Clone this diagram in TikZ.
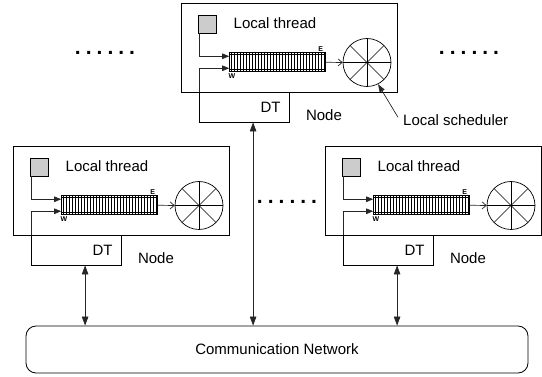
\documentclass[tikz,border=0pt]{standalone}
\usepackage{fontspec}
\setmainfont{Liberation Sans}
\usetikzlibrary{arrows.meta,calc}
\tikzset{
  nodebox/.style={draw, line width=0.8pt, minimum width=216pt, minimum height=89pt, inner sep=0pt},
  thr/.style={draw, fill=gray!40, line width=0.6pt, minimum size=17.5pt, inner sep=0pt},
  lbl/.style={font=\fontsize{15}{18}\selectfont, inner sep=0pt},
  tinylbl/.style={font=\fontsize{7}{7}\selectfont\bfseries, inner sep=0pt},
  queue/.style={draw, line width=0.6pt, minimum width=95.5pt, minimum height=19pt, inner sep=0pt,
    path picture={
      \foreach \i in {0,...,31}
        \draw[line width=0.5pt] ([xshift={1.5pt+3pt*\i}]path picture bounding box.north west)
          -- ([xshift={1.5pt+3pt*\i}]path picture bounding box.south west);
      \draw[line width=0.5pt] ([yshift=-2pt]path picture bounding box.north west) -- ([yshift=-2pt]path picture bounding box.north east);
      \draw[line width=0.5pt] ([yshift=2pt]path picture bounding box.south west) -- ([yshift=2pt]path picture bounding box.south east);
    }},
  sched/.style={circle, draw, line width=0.7pt, minimum size=48pt, inner sep=0pt,
    path picture={
      \draw[line width=0.5pt] (path picture bounding box.west) -- (path picture bounding box.east);
      \draw[line width=0.5pt] (path picture bounding box.north) -- (path picture bounding box.south);
      \draw[line width=0.5pt] (path picture bounding box.north west) -- (path picture bounding box.south east);
      \draw[line width=0.5pt] (path picture bounding box.north east) -- (path picture bounding box.south west);
    }},
  dtbox/.style={draw, line width=0.8pt, minimum width=90pt, minimum height=30pt, inner xsep=9pt, inner ysep=0pt,
    text width=72pt, align=right, font=\fontsize{15}{18}\selectfont},
  conn/.style={line width=0.7pt, draw=black!85},
  tip/.style={-{Triangle[length=7pt,width=5.5pt]}},
  vtip/.style={{Triangle[length=9pt,width=6.5pt]}-{Triangle[length=9pt,width=6.5pt]}},
  dots/.style={font=\fontsize{21}{21}\selectfont\bfseries, inner sep=0pt},
}
\begin{document}
\begin{tikzpicture}[x=1pt, y=-1pt]
\useasboundingbox (0,0) rectangle (542,377);

\foreach \n/\px/\py in {T/181/3, L/13/146, R/325/146}{
  \begin{scope}[shift={(\px,\py)}]
    \node[nodebox] (\n-box) at (108,44.5) {};
    \node[thr] (\n-sq) at (26.25,21.25) {};
    \node[lbl, anchor=west] (\n-lt) at (52.5,20) {Local thread};
    \node[queue] (\n-q) at (96.25,59.25) {};
    \node[sched] (\n-s) at (186,59.5) {};
    \node[dtbox] (\n-dt) at (63.5,104) {DT};
    \node[lbl] (\n-nd) at (143,112.5) {Node};
    \node[tinylbl] (\n-e) at (139.7,46) {E};
    \node[tinylbl] (\n-w) at (51,73.5) {W};
    \draw[conn, tip] ([xshift=1pt]\n-sq.south west) |- ([yshift=6pt]\n-q.west);
    \draw[conn, tip] (\n-dt.north west) |- ([yshift=-6pt]\n-q.west);
    \draw[conn, -{Straight Barb[length=4pt,width=7pt]}] (\n-q.east) -- (\n-s.west);
  \end{scope}
}

\node[lbl, anchor=west] (ls) at (403,120) {Local scheduler};
\draw[conn, -{Triangle[length=8pt,width=5.5pt]}] ([shift={(-5pt,-3pt)}]ls.north west) -- (T-s.-63);

\node[dots] (d1) at (105,53) {.\hspace{5pt}.\hspace{5pt}.\hspace{5pt}.\hspace{5pt}.\hspace{5pt}.};
\node[dots] (d2) at (469,53) {.\hspace{5pt}.\hspace{5pt}.\hspace{5pt}.\hspace{5pt}.\hspace{5pt}.};
\node[dots] (d3) at (287,202) {.\hspace{5pt}.\hspace{5pt}.\hspace{5pt}.\hspace{5pt}.\hspace{5pt}.};

\node[draw, line width=0.8pt, rounded corners=10pt, minimum width=502pt, minimum height=47pt, lbl] (net) at (277,349.5) {Communication Network};

\path ([xshift=54pt]L-dt.south west) coordinate (la);
\path ([xshift=54pt]T-dt.south west) coordinate (ta);
\path ([xshift=54pt]R-dt.south west) coordinate (ra);
\draw[conn, vtip] (la) -- (la |- net.north);
\draw[conn, vtip] (ta) -- (ta |- net.north);
\draw[conn, vtip] (ra) -- (ra |- net.north);
\end{tikzpicture}
\end{document}
